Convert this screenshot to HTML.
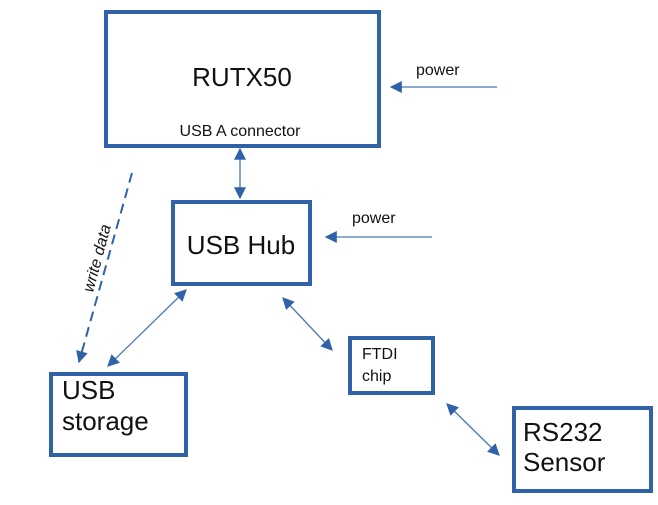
<!DOCTYPE html>
<html><head><style>
body{margin:0;background:#fff;width:658px;height:500px;overflow:hidden}
svg{font-family:"Liberation Sans",sans-serif}
</style></head><body>
<svg width="658" height="500" viewBox="0 0 658 500">
<defs>
<marker id="a" viewBox="0 0 10 10" refX="9" refY="5" markerWidth="12" markerHeight="12" markerUnits="userSpaceOnUse" orient="auto-start-reverse"><path d="M0,0L10,5L0,10z" fill="#2f62a6"/></marker>
</defs>
<g fill="#fff" stroke="#2f62a6" stroke-width="4">
<rect x="106" y="12" width="273" height="134"/>
<rect x="173" y="202" width="137" height="82"/>
<rect x="51" y="374" width="135" height="81"/>
<rect x="350" y="338" width="83" height="55"/>
<rect x="514" y="408" width="137" height="83"/>
</g>
<g stroke="#4a78b5" stroke-width="1.3" fill="none">
<line x1="240" y1="149" x2="240" y2="198" marker-start="url(#a)" marker-end="url(#a)"/>
<line x1="497" y1="87" x2="391" y2="87" marker-end="url(#a)"/>
<line x1="432" y1="237" x2="326" y2="237" marker-end="url(#a)"/>
<line x1="186" y1="290" x2="108" y2="366" marker-start="url(#a)" marker-end="url(#a)"/>
<line x1="283" y1="298" x2="332" y2="350" marker-start="url(#a)" marker-end="url(#a)"/>
<line x1="447" y1="404" x2="499" y2="455" marker-start="url(#a)" marker-end="url(#a)"/>
<line x1="132" y1="173" x2="79" y2="362" stroke="#2f62a6" stroke-width="2" stroke-dasharray="10,6" marker-end="url(#a)"/>
</g>
<g fill="#111">
<text x="242" y="86" font-size="26" text-anchor="middle">RUTX50</text>
<text x="240" y="136" font-size="16" text-anchor="middle">USB A connector</text>
<text x="416" y="75" font-size="16">power</text>
<text x="352" y="223" font-size="16">power</text>
<text x="241" y="254" font-size="26" text-anchor="middle">USB Hub</text>
<text x="62" y="399" font-size="26">USB</text>
<text x="62" y="430" font-size="26">storage</text>
<text x="362" y="359" font-size="16">FTDI</text>
<text x="362" y="381" font-size="16">chip</text>
<text x="523" y="441" font-size="26">RS232</text>
<text x="523" y="471" font-size="26">Sensor</text>
<text transform="translate(93,293) rotate(-75)" font-size="16" font-style="italic">write data</text>
</g>
</svg>
</body></html>
